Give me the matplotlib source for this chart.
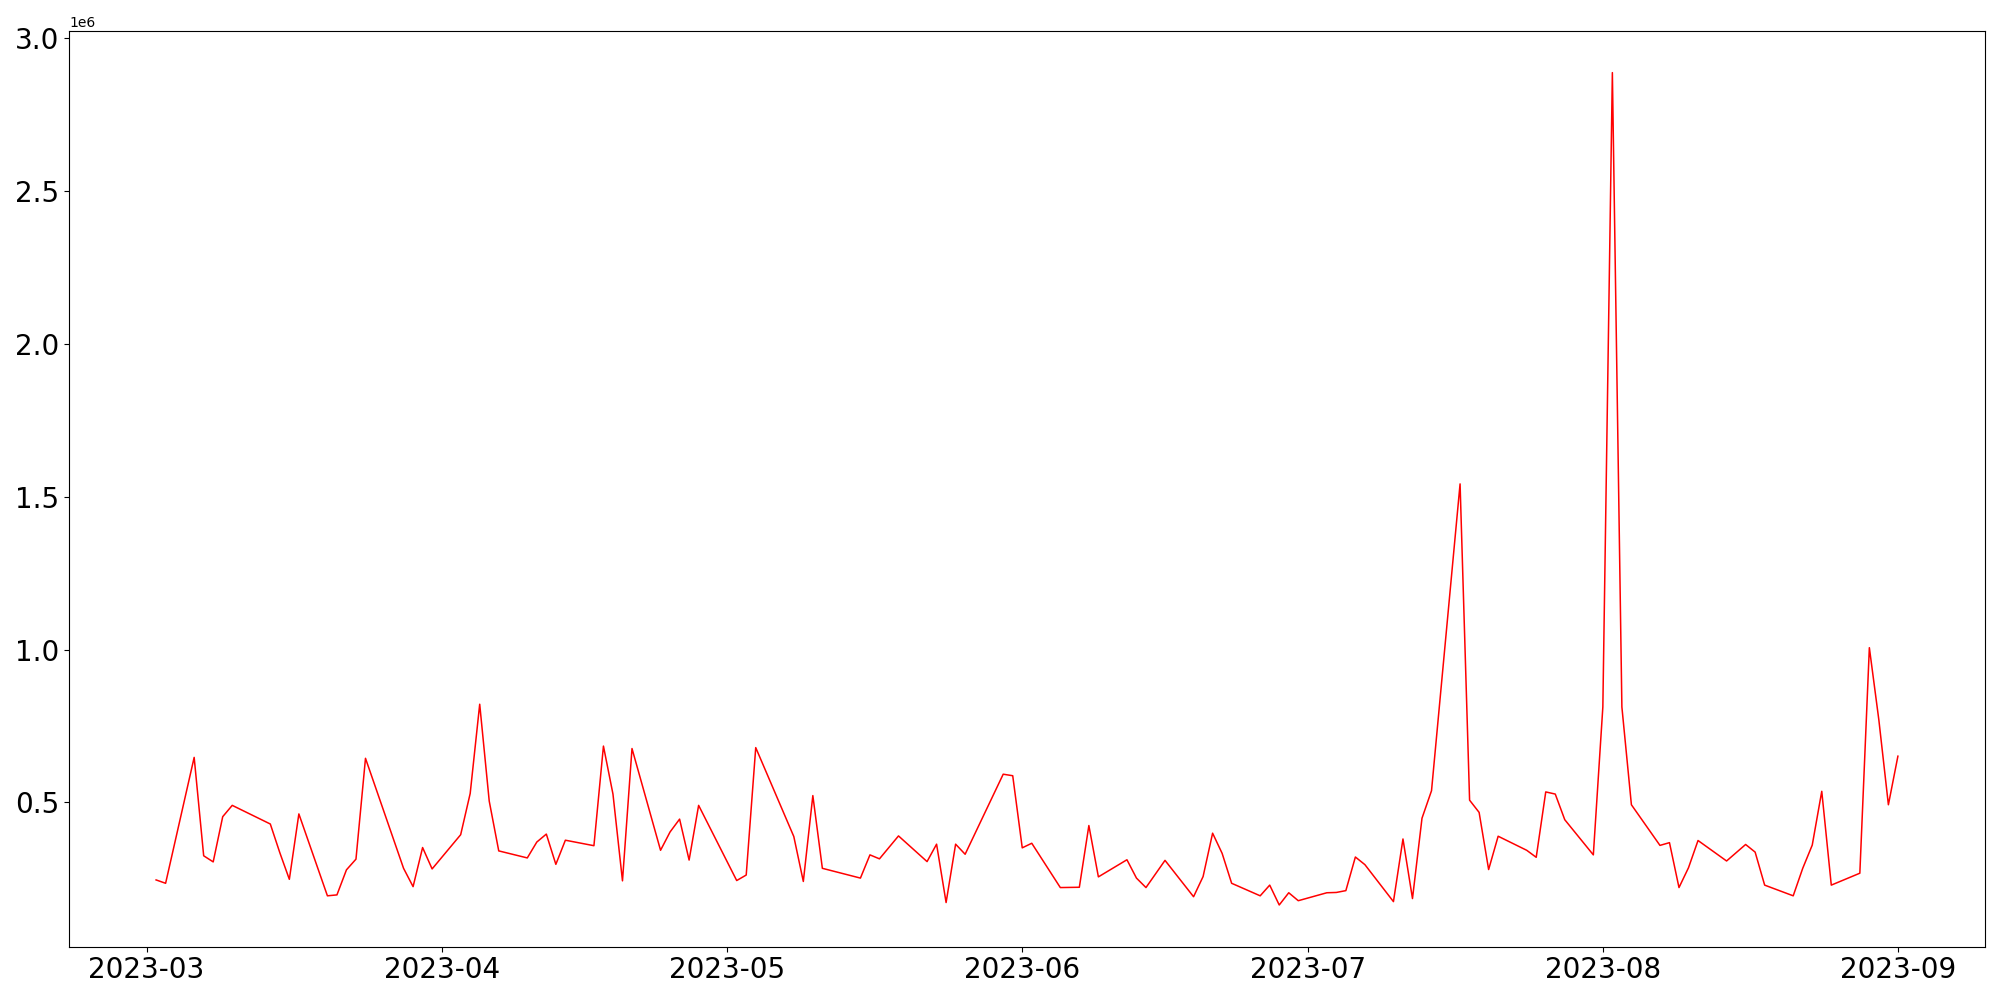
import matplotlib
matplotlib.use("Agg")
import matplotlib.pyplot as plt
import pandas as pd

# trading days shown in the chart
dates = [
    "2023-03-02", "2023-03-03", "2023-03-06", "2023-03-07", "2023-03-08", "2023-03-09", "2023-03-10",
    "2023-03-14", "2023-03-15", "2023-03-16", "2023-03-17",
    "2023-03-20", "2023-03-21", "2023-03-22", "2023-03-23", "2023-03-24",
    "2023-03-28", "2023-03-29", "2023-03-30", "2023-03-31",
    "2023-04-03", "2023-04-04", "2023-04-05", "2023-04-06", "2023-04-07",
    "2023-04-10", "2023-04-11", "2023-04-12", "2023-04-13", "2023-04-14",
    "2023-04-17", "2023-04-18", "2023-04-19", "2023-04-20", "2023-04-21",
    "2023-04-24", "2023-04-25", "2023-04-26", "2023-04-27", "2023-04-28",
    "2023-05-02", "2023-05-03", "2023-05-04",
    "2023-05-08", "2023-05-09", "2023-05-10", "2023-05-11",
    "2023-05-15", "2023-05-16", "2023-05-17", "2023-05-19",
    "2023-05-22", "2023-05-23", "2023-05-24", "2023-05-25", "2023-05-26",
    "2023-05-30", "2023-05-31", "2023-06-01", "2023-06-02",
    "2023-06-05", "2023-06-07", "2023-06-08", "2023-06-09",
    "2023-06-12", "2023-06-13", "2023-06-14", "2023-06-16",
    "2023-06-19", "2023-06-20", "2023-06-21", "2023-06-22", "2023-06-23",
    "2023-06-26", "2023-06-27", "2023-06-28", "2023-06-29", "2023-06-30",
    "2023-07-03", "2023-07-04", "2023-07-05", "2023-07-06", "2023-07-07",
    "2023-07-10", "2023-07-11", "2023-07-12", "2023-07-13", "2023-07-14",
    "2023-07-17", "2023-07-18", "2023-07-19", "2023-07-20", "2023-07-21",
    "2023-07-24", "2023-07-25", "2023-07-26", "2023-07-27", "2023-07-28",
    "2023-07-31", "2023-08-01", "2023-08-02", "2023-08-03", "2023-08-04",
    "2023-08-07", "2023-08-08", "2023-08-09", "2023-08-10", "2023-08-11",
    "2023-08-14", "2023-08-16", "2023-08-17", "2023-08-18",
    "2023-08-21", "2023-08-22", "2023-08-23", "2023-08-24", "2023-08-25",
    "2023-08-28", "2023-08-29", "2023-08-30", "2023-08-31", "2023-09-01",
]

# values in millions
values_m = [
    0.246, 0.235, 0.647, 0.325, 0.305, 0.453, 0.490,
    0.429, 0.335, 0.248, 0.462,
    0.194, 0.197, 0.279, 0.314, 0.644,
    0.284, 0.224, 0.352, 0.282,
    0.394, 0.529, 0.821, 0.504, 0.341,
    0.318, 0.370, 0.396, 0.297, 0.376,
    0.358, 0.684, 0.527, 0.243, 0.676,
    0.343, 0.403, 0.445, 0.311, 0.490,
    0.244, 0.262, 0.679,
    0.388, 0.241, 0.522, 0.284,
    0.252, 0.328, 0.315, 0.390,
    0.306, 0.363, 0.172, 0.363, 0.330,
    0.592, 0.587, 0.351, 0.366,
    0.221, 0.222, 0.424, 0.256,
    0.312, 0.252, 0.221, 0.310,
    0.191, 0.257, 0.399, 0.333, 0.235,
    0.194, 0.229, 0.164, 0.204, 0.178,
    0.204, 0.205, 0.211, 0.321, 0.296,
    0.175, 0.380, 0.185, 0.448, 0.538,
    1.542, 0.507, 0.467, 0.280, 0.389,
    0.343, 0.320, 0.534, 0.527, 0.443,
    0.328, 0.812, 2.888, 0.812, 0.492,
    0.359, 0.368, 0.221, 0.286, 0.375,
    0.308, 0.362, 0.337, 0.229,
    0.194, 0.284, 0.360, 0.536, 0.229,
    0.268, 1.006, 0.769, 0.492, 0.651,
]

x = pd.to_datetime(dates)
y = [v * 1e6 for v in values_m]

fig, ax = plt.subplots(figsize=(20, 10), dpi=100)
ax.plot(x, y, color="red", linewidth=1.1)

ax.tick_params(axis="both", labelsize=20)
ax.set_yticks([0.5e6, 1.0e6, 1.5e6, 2.0e6, 2.5e6, 3.0e6])

fig.subplots_adjust(left=0.0345, right=0.9925, top=0.969, bottom=0.0534)
fig.savefig("out.png", dpi=100)
